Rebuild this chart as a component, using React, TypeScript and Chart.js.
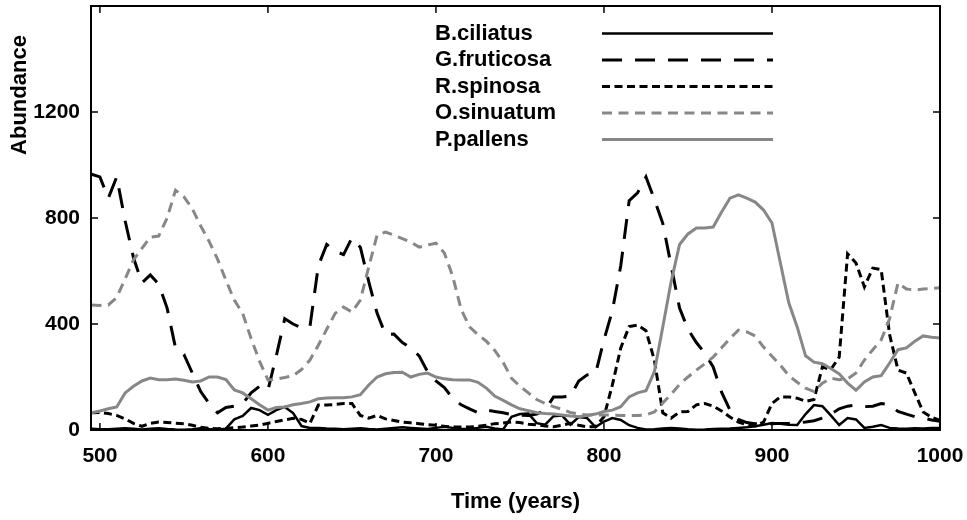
import React, { useEffect, useRef } from "react";
import { Chart, registerables } from "chart.js";

Chart.register(...registerables);

const years = [
  495, 500, 505, 510, 515, 520, 525, 530, 535, 540,
  545, 550, 555, 560, 565, 570, 575, 580, 585, 590,
  595, 600, 605, 610, 615, 620, 625, 630, 635, 640,
  645, 650, 655, 660, 665, 670, 675, 680, 685, 690,
  695, 700, 705, 710, 715, 720, 725, 730, 735, 740,
  745, 750, 755, 760, 765, 770, 775, 780, 785, 790,
  795, 800, 805, 810, 815, 820, 825, 830, 835, 840,
  845, 850, 855, 860, 865, 870, 875, 880, 885, 890,
  895, 900, 905, 910, 915, 920, 925, 930, 935, 940,
  945, 950, 955, 960, 965, 970, 975, 980, 985, 990,
  995, 1000,
];

const bCiliatus = [
  5, 3, 3, 5, 7, 5, 2, 5, 7, 4,
  2, 1, 3, 7, 4, 2, 5, 40, 53, 83,
  75, 57, 75, 87, 64, 15, 8, 8, 6, 5,
  3, 5, 7, 4, 2, 5, 8, 10, 8, 6,
  4, 8, 12, 8, 5, 4, 8, 12, 6, 2,
  50, 60, 62, 26, 20, 52, 55, 20, 49, 45,
  11, 32, 45, 38, 18, 8, 2, 3, 6, 8,
  6, 3, 1, 2, 4, 5, 6, 8, 10, 14,
  20, 26, 24, 20, 19, 60, 94, 90, 55, 19,
  45, 40, 8, 12, 19, 8, 6, 5, 7, 6,
  8, 8,
];

const gFruticosa = [
  965, 955, 875, 955, 790, 650, 555, 585, 550, 460,
  310, 285, 215, 145, 100, 65, 85, 90, 100, 140,
  165, 150, 280, 420, 400, 385, 390, 620, 700, 675,
  662, 725, 690, 560, 440, 360, 362, 330, 310, 280,
  220, 185, 160, 120, 95, 80, 65, 75, 70, 65,
  58, 56, 55, 60, 75, 125, 125, 128, 185, 208,
  213, 340, 450, 620, 865, 895, 955, 870, 780, 620,
  460, 380, 330, 290, 238, 143, 75, 40, 28, 24,
  22, 24, 25, 25, 27, 30, 35, 45, 60, 80,
  90, 94, 88, 90, 100, 95, 70, 60, 50, 45,
  38, 33,
];

const rSpinosa = [
  65, 66, 62, 55, 42, 25, 14, 25, 30, 28,
  26, 24, 18, 10, 6, 5, 6, 9, 11, 15,
  18, 25, 32, 38, 44, 40, 25, 94, 94, 96,
  100, 100, 55, 45, 55, 42, 36, 30, 27, 24,
  20, 18, 14, 11, 11, 11, 14, 18, 24, 26,
  30, 28, 22, 20, 15, 12, 18, 25, 18, 12,
  12, 50, 170, 310, 390, 396, 375, 264, 65, 45,
  68, 70, 95, 100, 90, 72, 49, 30, 20, 15,
  30, 100, 125, 125, 120, 108, 115, 238, 228, 275,
  665, 630, 540, 611, 605, 360, 226, 215, 140, 68,
  48, 36,
];

const oSinuatum = [
  472, 470, 472, 500, 570, 642, 685, 728, 732, 800,
  905, 880, 835, 770, 712, 645, 565, 490, 440, 345,
  260, 189, 192, 198, 205, 228, 264, 320, 380, 440,
  464, 445, 490, 615, 736, 747, 735, 722, 709, 690,
  698, 705, 668, 580, 455, 389, 360, 335, 300, 255,
  195, 165, 140, 115, 100, 88, 78, 66, 60, 57,
  57, 57, 56, 55, 55, 55, 57, 68, 102, 135,
  172, 200, 226, 250, 275, 310, 345, 377, 370, 355,
  313, 278, 245, 205, 180, 158, 145, 177, 195, 190,
  193, 215, 264, 303, 340, 420, 555, 532, 528, 532,
  534, 537,
];

const pPallens = [
  65, 72, 80, 87, 140, 165, 185, 196, 190, 190,
  192, 188, 181, 185, 200, 200, 190, 151, 140, 118,
  95, 75, 85, 87, 95, 100, 106, 118, 121, 122,
  122, 125, 133, 170, 200, 212, 217, 218, 200, 210,
  215, 200, 193, 190, 189, 189, 180, 158, 128, 112,
  95, 80, 73, 65, 62, 60, 57, 53, 50, 55,
  60, 70, 75, 88, 125, 140, 148, 220, 389, 560,
  700, 740, 762, 762, 766, 823, 875, 887, 875, 860,
  830, 781, 630, 480, 389, 280, 256, 250, 232, 212,
  177, 150, 181, 200, 205, 253, 303, 310, 335, 355,
  350, 347,
];

const seriesNames = ["B.ciliatus", "G.fruticosa", "R.spinosa", "O.sinuatum", "P.pallens"];
const seriesValues = [bCiliatus, gFruticosa, rSpinosa, oSinuatum, pPallens];
const seriesColors = ["#000000", "#000000", "#000000", "#878787", "#878787"];
const seriesDashes: number[][] = [[], [20, 13], [8, 4.5], [10, 6.5], []];
const seriesWidths = [2.5, 3, 3, 3, 3];

const xTicks = [500, 600, 700, 800, 900, 1000];
const yTicks = [0, 400, 800, 1200];

const FONT = "'Liberation Sans', Arial, Helvetica, sans-serif";

const decorPlugin = {
  id: "decor",
  afterDatasetsDraw(chart: any) {
    const { ctx, chartArea: a, scales } = chart;
    const x = scales.x;
    const y = scales.y;
    ctx.save();
    ctx.strokeStyle = "#000";
    ctx.lineWidth = 2;
    ctx.setLineDash([]);
    ctx.strokeRect(a.left, a.top, a.right - a.left, a.bottom - a.top);
    ctx.lineWidth = 1.5;
    const seg = (x1: number, y1: number, x2: number, y2: number) => {
      ctx.beginPath();
      ctx.moveTo(x1, y1);
      ctx.lineTo(x2, y2);
      ctx.stroke();
    };
    xTicks.forEach((v) => {
      const px = x.getPixelForValue(v);
      seg(px, a.bottom, px, a.bottom - 7);
      seg(px, a.top, px, a.top + 7);
    });
    yTicks.forEach((v) => {
      const py = y.getPixelForValue(v);
      seg(a.left, py, a.left + 7, py);
      seg(a.right, py, a.right - 7, py);
    });

    // legend
    ctx.font = `bold 22px ${FONT}`;
    ctx.textAlign = "left";
    ctx.textBaseline = "middle";
    seriesNames.forEach((name, i) => {
      const rowY = 33.5 + i * 26.5;
      ctx.fillStyle = "#000";
      ctx.fillText(name, 435, rowY);
      ctx.strokeStyle = seriesColors[i];
      ctx.lineWidth = seriesWidths[i];
      ctx.setLineDash(seriesDashes[i]);
      ctx.lineCap = "butt";
      seg(602, rowY, 773, rowY);
    });
    ctx.setLineDash([]);

    // axis titles
    ctx.fillStyle = "#000";
    ctx.font = `bold 22px ${FONT}`;
    ctx.textAlign = "center";
    ctx.textBaseline = "middle";
    ctx.fillText("Time (years)", (a.left + a.right) / 2, 502);
    ctx.save();
    ctx.translate(19.5, 95);
    ctx.rotate(-Math.PI / 2);
    ctx.fillText("Abundance", 0, 0);
    ctx.restore();
    ctx.restore();
  },
};

export default function App() {
  const ref = useRef<HTMLCanvasElement | null>(null);
  useEffect(() => {
    if (!ref.current) return;
    const chart = new Chart(ref.current, {
      type: "line",
      data: {
        datasets: seriesNames.map((name, i) => ({
          label: name,
          data: years.map((t, j) => ({ x: t, y: seriesValues[i][j] })),
          borderColor: seriesColors[i],
          borderWidth: seriesWidths[i],
          borderDash: seriesDashes[i],
          pointRadius: 0,
          tension: 0,
          fill: false,
          order: seriesNames.length - i,
        })),
      },
      options: {
        responsive: false,
        animation: false,
        devicePixelRatio: 1,
        layout: { padding: { top: 6, right: 27, bottom: 0, left: 0 } },
        plugins: {
          legend: { display: false },
          tooltip: { enabled: false },
        },
        scales: {
          x: {
            type: "linear",
            min: 494.7,
            max: 1000,
            grid: { display: false, drawTicks: false },
            border: { display: false },
            ticks: {
              color: "#000",
              padding: 14,
              font: { family: FONT, size: 21, weight: "bold" },
              maxRotation: 0,
              callback: (v: any) => String(v),
            },
            afterBuildTicks: (s: any) => {
              s.ticks = xTicks.map((v) => ({ value: v }));
            },
            afterFit: (s: any) => {
              s.height = 90;
              s.paddingLeft = 0;
              s.paddingRight = 0;
            },
          },
          y: {
            type: "linear",
            min: 0,
            max: 1600,
            grid: { display: false, drawTicks: false },
            border: { display: false },
            ticks: {
              color: "#000",
              padding: 11,
              font: { family: FONT, size: 21, weight: "bold" },
              callback: (v: any) => String(v),
            },
            afterBuildTicks: (s: any) => {
              s.ticks = yTicks.map((v) => ({ value: v }));
            },
            afterFit: (s: any) => {
              s.width = 91;
              s.paddingTop = 0;
              s.paddingBottom = 0;
            },
          },
        },
      },
      plugins: [decorPlugin],
    });
    return () => chart.destroy();
  }, []);
  return (
    <div style={{ position: "fixed", left: 0, top: 0, width: 967, height: 520, background: "#fff" }}>
      <canvas ref={ref} width={967} height={520} style={{ display: "block" }} />
    </div>
  );
}
